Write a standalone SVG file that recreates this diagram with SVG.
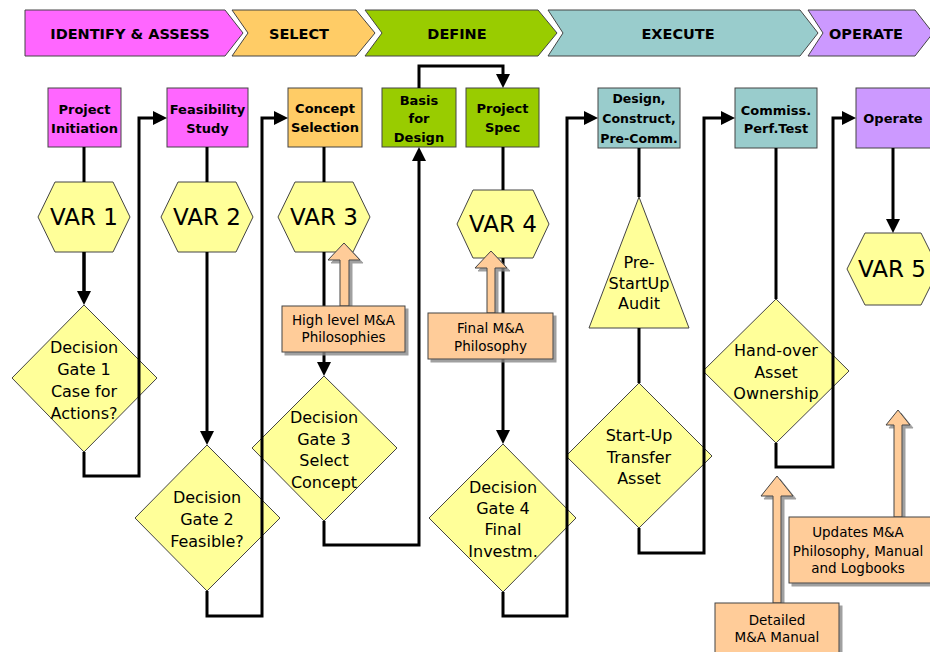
<svg xmlns="http://www.w3.org/2000/svg" width="930" height="652" viewBox="0 0 930 652">
<style>
.ban{stroke:#444;stroke-width:1}
.bt{font-family:"DejaVu Sans",sans-serif;font-weight:bold;font-size:14.5px;text-anchor:middle;fill:#000}
.box{stroke:#444;stroke-width:1}
.boxt{font-family:"DejaVu Sans",sans-serif;font-weight:bold;font-size:13px;text-anchor:middle;fill:#000}
.yel{fill:#FFFF99;stroke:#444;stroke-width:1}
.var{font-family:"DejaVu Sans",sans-serif;font-size:23px;text-anchor:middle;fill:#000}
.dt{font-family:"DejaVu Sans",sans-serif;font-size:16px;text-anchor:middle;fill:#000}
.peach{fill:#FFCC99;stroke:#444;stroke-width:1;filter:url(#sh)}
.pt{font-family:"DejaVu Sans",sans-serif;font-size:13.5px;text-anchor:middle;fill:#000}
.con{fill:none;stroke:#000;stroke-width:3}
.arr{fill:none;stroke:#000;stroke-width:3;marker-end:url(#ah)}
.mag{fill:#FF66FF}.org{fill:#FFCC66}.grn{fill:#99CC00}.teal{fill:#99CCCC}.pur{fill:#CC99FF}
</style>
<defs>
<marker id="ah" markerUnits="userSpaceOnUse" markerWidth="14" markerHeight="14" refX="6" refY="7" orient="auto">
<path d="M0,0 L14,7 L0,14 z" fill="#000"/>
</marker>
<filter id="sh" x="-10%" y="-10%" width="130%" height="130%">
<feDropShadow dx="3" dy="3" stdDeviation="0.6" flood-color="#888" flood-opacity="0.8"/>
</filter>
</defs>
<rect width="930" height="652" fill="#fff"/>

<g id="banner">
<polygon class="ban mag" points="25,10 225,10 243,33 225,56 25,56"/>
<polygon class="ban org" points="232,10 356,10 375,33 356,56 232,56 248,33"/>
<polygon class="ban grn" points="365,10 538,10 557,33 538,56 365,56 382,33"/>
<polygon class="ban teal" points="548,10 800,10 818,33 800,56 548,56 563,33"/>
<polygon class="ban pur" points="808,10 915,10 933,33 915,56 808,56 823,33"/>
<text class="bt" x="130" y="38.5">IDENTIFY &amp; ASSESS</text>
<text class="bt" x="299" y="38.5">SELECT</text>
<text class="bt" x="457" y="38.5">DEFINE</text>
<text class="bt" x="678" y="38.5">EXECUTE</text>
<text class="bt" x="866" y="38.5">OPERATE</text>
</g>

<g id="project-initiation"><rect class="box mag" x="48" y="88" width="73" height="59"/>
<text class="boxt" x="84.5" y="114">Project</text><text class="boxt" x="84.5" y="133">Initiation</text></g>
<g id="feasibility-study"><rect class="box mag" x="167" y="88" width="81" height="59"/>
<text class="boxt" x="207.5" y="114">Feasibility</text><text class="boxt" x="207.5" y="133">Study</text></g>
<g id="concept-selection"><rect class="box org" x="288" y="88" width="74" height="59"/>
<text class="boxt" x="325" y="113">Concept</text><text class="boxt" x="325" y="132">Selection</text></g>
<g id="basis-for-design"><rect class="box grn" x="382" y="88" width="74" height="59"/>
<text class="boxt" x="419" y="105">Basis</text><text class="boxt" x="419" y="123">for</text><text class="boxt" x="419" y="142">Design</text></g>
<g id="project-spec"><rect class="box grn" x="466" y="88" width="73" height="59"/>
<text class="boxt" x="502.5" y="113">Project</text><text class="boxt" x="502.5" y="132">Spec</text></g>
<g id="design-construct"><rect class="box teal" x="598" y="88" width="82" height="60"/>
<text class="boxt" x="639" y="103" style="font-size:12.5px">Design,</text><text class="boxt" x="639" y="123" style="font-size:12.5px">Construct,</text><text class="boxt" x="639" y="143" style="font-size:12.5px">Pre-Comm.</text></g>
<g id="commiss-perf-test"><rect class="box teal" x="735" y="88" width="82" height="60"/>
<text class="boxt" x="776" y="115">Commiss.</text><text class="boxt" x="776" y="133">Perf.Test</text></g>
<g id="operate"><rect class="box pur" x="856" y="88" width="80" height="60"/>
<text class="boxt" x="893" y="123">Operate</text></g>

<g id="var1"><polygon class="yel" points="38,217 55,182 113,182 130,217 113,252 55,252"/><text class="var" x="84" y="225">VAR 1</text></g>
<g id="var2"><polygon class="yel" points="161,217 178,182 236,182 253,217 236,252 178,252"/><text class="var" x="207" y="225">VAR 2</text></g>
<g id="var3"><polygon class="yel" points="278,217 295,182 353,182 370,217 353,252 295,252"/><text class="var" x="324" y="225">VAR 3</text></g>
<g id="var4"><polygon class="yel" points="457,224 473,190 533,190 549,224 533,258 473,258"/><text class="var" x="503" y="232">VAR 4</text></g>
<g id="var5"><polygon class="yel" points="847,269 865,233 921,233 939,269 921,305 865,305"/><text class="var" x="892" y="277">VAR 5</text></g>

<g id="gate1"><polygon class="yel" points="84,305 157,378 84,452 12,378"/>
<text class="dt" x="84" y="353">Decision</text><text class="dt" x="84" y="375">Gate 1</text><text class="dt" x="84" y="397">Case for</text><text class="dt" x="84" y="419">Actions?</text></g>
<g id="gate2"><polygon class="yel" points="207,445 280,518 207,591 135,518"/>
<text class="dt" x="207" y="503">Decision</text><text class="dt" x="207" y="525">Gate 2</text><text class="dt" x="207" y="547">Feasible?</text></g>
<g id="gate3"><polygon class="yel" points="324,376 397,448 324,521 252,448"/>
<text class="dt" x="324" y="423">Decision</text><text class="dt" x="324" y="445">Gate 3</text><text class="dt" x="324" y="466">Select</text><text class="dt" x="324" y="488">Concept</text></g>
<g id="gate4"><polygon class="yel" points="503,444 576,518 503,592 429,518"/>
<text class="dt" x="503" y="493">Decision</text><text class="dt" x="503" y="514">Gate 4</text><text class="dt" x="503" y="535">Final</text><text class="dt" x="503" y="557">Investm.</text></g>
<g id="pre-startup-audit"><polygon class="yel" points="639,197 689,328 589,328"/>
<text class="dt" x="639" y="268">Pre-</text><text class="dt" x="639" y="289">StartUp</text><text class="dt" x="639" y="309">Audit</text></g>
<g id="startup-transfer"><polygon class="yel" points="639,383 712,456 639,528 566,456"/>
<text class="dt" x="639" y="441">Start-Up</text><text class="dt" x="639" y="463">Transfer</text><text class="dt" x="639" y="484">Asset</text></g>
<g id="handover"><polygon class="yel" points="776,299 849,371 776,443 703,371"/>
<text class="dt" x="776" y="356">Hand-over</text><text class="dt" x="776" y="378">Asset</text><text class="dt" x="776" y="399">Ownership</text></g>

<g id="connectors">
<path class="con" d="M84 147 V182 M84 252 V291"/>
<path class="arr" d="M84 252 V297"/>
<path class="arr" d="M84 452 V476 H139 V118 H159"/>
<path class="con" d="M207 147 V182"/>
<path class="arr" d="M207 252 V437"/>
<path class="arr" d="M207 591 V616 H262 V118 H280"/>
<path class="con" d="M324 147 V182 M324 252 V306"/>
<path class="arr" d="M324 352 V368"/>
<path class="arr" d="M324 521 V545 H419 V155"/>
<path class="arr" d="M419 88 V66 H503 V80"/>
<path class="con" d="M503 147 V190 M503 258 V313"/>
<path class="arr" d="M503 359 V436"/>
<path class="arr" d="M503 592 V616 H567 V118 H590"/>
<path class="con" d="M639 148 V197 M639 328 V383"/>
<path class="arr" d="M639 528 V553 H704 V118 H727"/>
<path class="con" d="M776 148 V299"/>
<path class="arr" d="M776 443 V467 H833 V118 H848"/>
<path class="arr" d="M893 148 V225"/>
</g>

<g id="high-level-philosophies">
<polygon class="peach" points="344,243 360,260 349,260 349,306 340,306 340,260 328,260"/>
<rect class="peach" x="282" y="306" width="123" height="46"/>
<text class="pt" x="343.5" y="325">High level M&amp;A</text><text class="pt" x="343.5" y="342">Philosophies</text></g>
<g id="final-philosophy">
<polygon class="peach" points="491,251 507,268 495,268 495,313 487,313 487,268 475,268"/>
<rect class="peach" x="428" y="313" width="125" height="46"/>
<text class="pt" x="490.5" y="333">Final M&amp;A</text><text class="pt" x="490.5" y="351">Philosophy</text></g>
<g id="detailed-manual">
<polygon class="peach" points="777,476 793,496 781,496 781,603 773,603 773,496 761,496"/>
<rect class="peach" x="715" y="603" width="124" height="60"/>
<text class="pt" x="777" y="625">Detailed</text><text class="pt" x="777" y="642">M&amp;A Manual</text></g>
<g id="updates">
<polygon class="peach" points="898,410 910,425 902,425 902,517 894,517 894,425 886,425"/>
<rect class="peach" x="789" y="517" width="150" height="66"/>
<text class="pt" x="858" y="537">Updates M&amp;A</text><text class="pt" x="858" y="556">Philosophy, Manual</text><text class="pt" x="858" y="573">and Logbooks</text></g>
</svg>
